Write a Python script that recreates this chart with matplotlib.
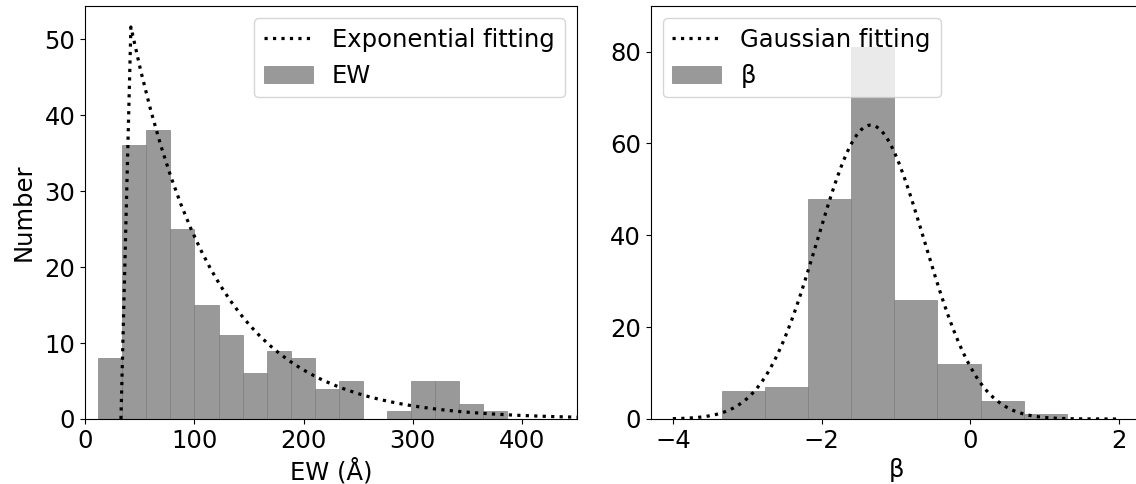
import numpy as np
import matplotlib
matplotlib.use("Agg")
import matplotlib.pyplot as plt

# ---------------- data ----------------
# EW histogram (bin edges in Angstrom, counts)
ew_bin_edges = [12.2, 34.2, 56.2, 78.2, 100.2, 122.2, 144.2, 166.2, 188.2,
                210.2, 232.2, 254.2, 276.2, 298.2, 320.2, 342.2, 364.2, 386.2]
ew_counts = [8, 36, 38, 25, 15, 11, 6, 9, 8, 4, 5, 0, 1, 5, 5, 2, 1]

# beta histogram
beta_bin_edges = [-3.345, -2.765, -2.185, -1.605, -1.025, -0.445, 0.135, 0.715, 1.295]
beta_counts = [6, 7, 48, 81, 26, 12, 4, 1]

# fit parameters
exp_amp, exp_x0, exp_tau, exp_step = 51.6, 42.0, 76.0, 9.1
gauss_amp, gauss_mu, gauss_sigma = 64.0, -1.34, 0.72

# ---------------- figure ----------------
FS = 17.5
plt.rcParams['font.size'] = FS
fig = plt.figure(figsize=(11.36, 4.84), dpi=100)
ax1 = fig.add_axes([85/1136, 1-419/484, (576.7-85)/1136, (419-5.7)/484])
ax2 = fig.add_axes([650.5/1136, 1-419/484, (1141.6-650.5)/1136, (419-5.7)/484])

bar_kw = dict(color='gray', alpha=0.8, edgecolor='gray', linewidth=0.6, align='edge')
line_kw = dict(color='black', linestyle=':', linewidth=2.3)

# left panel: EW
x_exp = np.arange(exp_x0 - exp_step, 460, exp_step)
y_exp = np.where(x_exp >= exp_x0 - 1e-9, exp_amp * np.exp(-(x_exp - exp_x0) / exp_tau), 0.0)
ax1.plot(x_exp, y_exp, label='Exponential fitting', zorder=3, **line_kw)
e = np.array(ew_bin_edges)
ax1.bar(e[:-1], ew_counts, width=np.diff(e), label='EW', **bar_kw)
ax1.set_xlim(0, 450)
ax1.set_ylim(0, 54.4)
ax1.set_xticks([0, 100, 200, 300, 400])
ax1.set_yticks([0, 10, 20, 30, 40, 50])
ax1.set_xlabel('EW (Å)')
ax1.set_ylabel('Number', labelpad=6)
ax1.legend(loc='upper right')

# right panel: beta
x_g = np.linspace(-4, 2, 200)
y_g = gauss_amp * np.exp(-0.5 * ((x_g - gauss_mu) / gauss_sigma) ** 2)
ax2.plot(x_g, y_g, label='Gaussian fitting', zorder=3, **line_kw)
b = np.array(beta_bin_edges)
ax2.bar(b[:-1], beta_counts, width=np.diff(b), label='β', **bar_kw)
ax2.set_xlim(-4.3, 2.3)
ax2.set_ylim(0, 90)
ax2.set_xticks([-4, -2, 0, 2])
ax2.set_yticks([0, 20, 40, 60, 80])
ax2.set_xlabel('β')
ax2.legend(loc='upper left')

fig.savefig('out.png', dpi=100)
